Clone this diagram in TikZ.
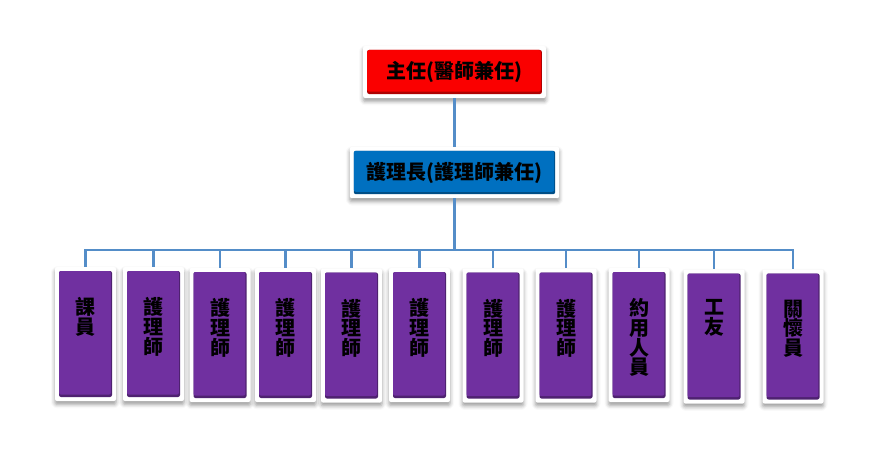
\documentclass[tikz,border=0pt]{standalone}
\usepackage{fontspec}
\newfontfamily\cjk{Noto Sans CJK TC}
\usetikzlibrary{shadows.blur}
\definecolor{ChiefRed}{RGB}{250,0,0}
\definecolor{HeadBlue}{RGB}{0,112,192}
\definecolor{StaffPurple}{RGB}{112,48,160}
\definecolor{LinkBlue}{RGB}{84,141,200}
\newcommand{\vtext}[1]{\parbox[c][55pt][t]{20pt}{\centering #1}}
\tikzset{
  card/.style={fill=white,rounded corners=1.5pt,inner sep=0pt,
    blur shadow={shadow xshift=0pt,shadow yshift=-2.5pt,shadow blur radius=3pt,shadow opacity=40},
    path picture={
      \fill[#1!70!black] ([shift={(3pt,-3pt)}]path picture bounding box.north west) rectangle ([shift={(-3pt,3pt)}]path picture bounding box.south east);
      \fill[#1] ([shift={(3pt,-3pt)}]path picture bounding box.north west) rectangle ([shift={(-3.8pt,4.8pt)}]path picture bounding box.south east);
    }},
  chiefbox/.style={card=ChiefRed,minimum width=137pt,minimum height=39pt,font=\cjk\bfseries\fontsize{15pt}{15.5pt}\selectfont},
  headbox/.style={card=HeadBlue,minimum width=157pt,minimum height=38.5pt,font=\cjk\bfseries\fontsize{15pt}{15.5pt}\selectfont},
  staffbox/.style={card=StaffPurple,minimum width=45.75pt,minimum height=100.5pt,font=\cjk\bfseries\fontsize{15pt}{14.8pt}\selectfont},
  link/.style={draw=LinkBlue,line width=2.2pt}
}
\begin{document}
\begin{tikzpicture}[x=0.75pt,y=-0.75pt]
\useasboundingbox (0,0) rectangle (881,453);

\node[chiefbox] (chief) at (454.5,72) {主任(醫師兼任)};
\node[headbox] (head) at (454.5,172.5) {護理長(護理師兼任)};
\coordinate (bus) at (454.5,250);

\node[staffbox] (clerk) at (85.5,334) {\vtext{課\\員}};
\node[staffbox] (rn1) at (153.5,334) {\vtext{護\\理\\師}};
\node[staffbox] (rn2) at (220,335) {\vtext{護\\理\\師}};
\node[staffbox] (rn3) at (285.5,335) {\vtext{護\\理\\師}};
\node[staffbox] (rn4) at (351.5,335.5) {\vtext{護\\理\\師}};
\node[staffbox] (rn5) at (419.5,335) {\vtext{護\\理\\師}};
\node[staffbox] (rn6) at (493,335.5) {\vtext{護\\理\\師}};
\node[staffbox] (rn7) at (566,335.5) {\vtext{護\\理\\師}};
\node[staffbox] (contract) at (639,335) {\vtext{約\\用\\人\\員}};
\node[staffbox] (worker) at (714,336.5) {\vtext{工\\友}};
\node[staffbox] (carer) at (793,336.5) {\vtext{關\\懷\\員}};

\draw[link] (chief) -- (head);
\draw[link] (head) -- (bus);
\draw[link] (bus) -| (clerk.north);
\draw[link] (bus) -| (rn1.north);
\draw[link] (bus) -| (rn2.north);
\draw[link] (bus) -| (rn3.north);
\draw[link] (bus) -| (rn4.north);
\draw[link] (bus) -| (rn5.north);
\draw[link] (bus) -| (rn6.north);
\draw[link] (bus) -| (rn7.north);
\draw[link] (bus) -| (contract.north);
\draw[link] (bus) -| (worker.north);
\draw[link] (bus) -| (carer.north);
\end{tikzpicture}
\end{document}
